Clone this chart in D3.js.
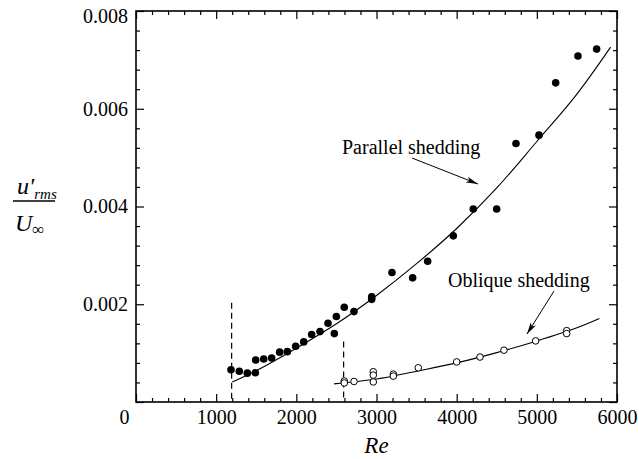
<!DOCTYPE html>
<html>
<head>
<meta charset="utf-8">
<script src="https://cdn.jsdelivr.net/npm/d3@7"></script>
<style>
  body { margin: 0; background: #fff; }
  svg { display: block; }
</style>
</head>
<body>
<svg id="chart" width="639" height="459"></svg>
<script>
// Parallel shedding (filled circles): Re, u'rms/U
const parallelRe = [1185, 1289, 1389, 1489, 1493, 1593, 1692, 1792, 1888, 1992, 2092, 2191, 2295, 2395, 2474, 2499, 2598, 2719, 2940, 2940, 3193, 3451, 3638, 3958, 4207, 4499, 4740, 5027, 5235, 5513, 5746];
const parallelU = [0.00066, 0.00063, 0.00059, 0.00060, 0.00086, 0.00088, 0.00090, 0.00102, 0.00103, 0.00114, 0.00123, 0.00138, 0.00144, 0.00161, 0.00140, 0.00175, 0.00194, 0.00185, 0.00215, 0.00210, 0.00265, 0.00254, 0.00288, 0.00340, 0.00395, 0.00395, 0.00529, 0.00546, 0.00653, 0.00708, 0.00722];

// Oblique shedding (open circles)
const obliqueRe = [2598, 2598, 2720, 2960, 2960, 2960, 3210, 3210, 3521, 4000, 4291, 4590, 4985, 5372, 5372];
const obliqueU = [0.00043, 0.00039, 0.00042, 0.00062, 0.00055, 0.00041, 0.00057, 0.00053, 0.00070, 0.00082, 0.00092, 0.00106, 0.00125, 0.00146, 0.00140];

// Fitted curves
const parallelFitRe = [1200, 1500, 2000, 2500, 3000, 3500, 4000, 4500, 5000, 5500, 5920];
const parallelFitU = [0.00041, 0.00064, 0.00110, 0.00160, 0.00218, 0.00283, 0.00355, 0.00438, 0.00533, 0.00630, 0.00726];
const obliqueFitRe = [2470, 3000, 3500, 4000, 4500, 5000, 5500, 5780];
const obliqueFitU = [0.00037, 0.00047, 0.00063, 0.00080, 0.00101, 0.00125, 0.00152, 0.00171];

// Dashed markers: Re, top value
const markerRe = [1193, 2590];
const markerTop = [0.00203, 0.00124];

const xMajor = [0, 1000, 2000, 3000, 4000, 5000, 6000];
const yMajor = [0, 0.002, 0.004, 0.006, 0.008];
const yLabels = ['', '0.002', '0.004', '0.006', '0.008'];

const serif = '"Liberation Serif", "Times New Roman", serif';
const svg = d3.select('#chart');
const plotLeft = 136, plotRight = 617, plotTop = 11, plotBottom = 402;

const x = d3.scaleLinear().domain([0, 6000]).range([plotLeft, plotRight]);
const y = d3.scaleLinear().domain([0, 0.008]).range([plotBottom, plotTop]);

const xMinor = d3.range(0, 6001, 200).filter(v => v % 1000 !== 0);
const yMinor = d3.range(0, 0.00801, 0.0004).filter(v => Math.abs(v / 0.002 - Math.round(v / 0.002)) > 1e-6);

// Axes with inward ticks on all four sides
function styleAxis(g) {
    g.select('.domain').remove();
    g.selectAll('line').attr('stroke', '#000').attr('stroke-width', 1.2);
    g.selectAll('text').style('font-family', serif).style('font-size', '20px').attr('fill', '#000');
}

svg.append('g').attr('transform', `translate(0,${plotBottom})`)
    .call(d3.axisBottom(x).tickValues(xMajor).tickSize(-8).tickPadding(18).tickFormat(d3.format('d')))
    .call(styleAxis)
    .call(g => g.selectAll('text').attr('dy', '0.2em'))
    .call(g => g.selectAll('text').filter(d => d === 0).attr('dx', -12));
svg.append('g').attr('transform', `translate(0,${plotBottom})`)
    .call(d3.axisBottom(x).tickValues(xMinor).tickSize(-4).tickFormat(''))
    .call(styleAxis);
svg.append('g').attr('transform', `translate(0,${plotTop})`)
    .call(d3.axisTop(x).tickValues(xMajor).tickSize(-8).tickFormat(''))
    .call(styleAxis);
svg.append('g').attr('transform', `translate(0,${plotTop})`)
    .call(d3.axisTop(x).tickValues(xMinor).tickSize(-4).tickFormat(''))
    .call(styleAxis);

svg.append('g').attr('transform', `translate(${plotLeft},0)`)
    .call(d3.axisLeft(y).tickValues(yMajor).tickSize(-8).tickPadding(8).tickFormat((d, i) => yLabels[i]))
    .call(styleAxis)
    .call(g => g.selectAll('text').filter(d => d === 0.008).attr('dy', '0.55em'));
svg.append('g').attr('transform', `translate(${plotLeft},0)`)
    .call(d3.axisLeft(y).tickValues(yMinor).tickSize(-4).tickFormat(''))
    .call(styleAxis);
svg.append('g').attr('transform', `translate(${plotRight},0)`)
    .call(d3.axisRight(y).tickValues(yMajor).tickSize(-8).tickFormat(''))
    .call(styleAxis);
svg.append('g').attr('transform', `translate(${plotRight},0)`)
    .call(d3.axisRight(y).tickValues(yMinor).tickSize(-4).tickFormat(''))
    .call(styleAxis);

// Frame
svg.append('rect')
    .attr('x', plotLeft).attr('y', plotTop)
    .attr('width', plotRight - plotLeft).attr('height', plotBottom - plotTop)
    .attr('fill', 'none').attr('stroke', '#000').attr('stroke-width', 1.6);

// Dashed verticals
markerRe.forEach((re, i) => {
    svg.append('line')
        .attr('x1', x(re)).attr('x2', x(re))
        .attr('y1', y(markerTop[i])).attr('y2', plotBottom)
        .attr('stroke', '#000').attr('stroke-width', 1.2)
        .attr('stroke-dasharray', '6,4');
});

// Fit curves
const line = d3.line().x(d => x(d[0])).y(d => y(d[1])).curve(d3.curveCatmullRom);
svg.append('path')
    .datum(parallelFitRe.map((r, i) => [r, parallelFitU[i]]))
    .attr('d', line).attr('fill', 'none').attr('stroke', '#000').attr('stroke-width', 1.1);
svg.append('path')
    .datum(obliqueFitRe.map((r, i) => [r, obliqueFitU[i]]))
    .attr('d', line).attr('fill', 'none').attr('stroke', '#000').attr('stroke-width', 1.1);

// Points
svg.append('g').selectAll('circle')
    .data(parallelRe.map((r, i) => [r, parallelU[i]]))
    .join('circle')
    .attr('cx', d => x(d[0])).attr('cy', d => y(d[1]))
    .attr('r', 3.8).attr('fill', '#000');
svg.append('g').selectAll('circle')
    .data(obliqueRe.map((r, i) => [r, obliqueU[i]]))
    .join('circle')
    .attr('cx', d => x(d[0])).attr('cy', d => y(d[1]))
    .attr('r', 3.3).attr('fill', '#fff').attr('stroke', '#000').attr('stroke-width', 1);

// Annotations with arrows
svg.append('defs').append('marker')
    .attr('id', 'arrow').attr('viewBox', '0 0 12 6')
    .attr('refX', 12).attr('refY', 3)
    .attr('markerWidth', 12).attr('markerHeight', 6)
    .attr('markerUnits', 'userSpaceOnUse')
    .attr('orient', 'auto')
    .append('path').attr('d', 'M0,0 L12,3 L0,6 L3,3 Z').attr('fill', '#000');

svg.append('text').attr('x', 342).attr('y', 154)
    .style('font-family', serif).style('font-size', '20px').text('Parallel shedding');
svg.append('line')
    .attr('x1', 412).attr('y1', 158).attr('x2', 478).attr('y2', 184)
    .attr('stroke', '#000').attr('stroke-width', 1).attr('marker-end', 'url(#arrow)');

svg.append('text').attr('x', 448).attr('y', 287)
    .style('font-family', serif).style('font-size', '20px').text('Oblique shedding');
svg.append('line')
    .attr('x1', 554).attr('y1', 291).attr('x2', 527).attr('y2', 334)
    .attr('stroke', '#000').attr('stroke-width', 1).attr('marker-end', 'url(#arrow)');

// Axis titles
svg.append('text')
    .attr('x', x(3000)).attr('y', 453)
    .attr('text-anchor', 'middle')
    .style('font-family', serif).style('font-size', '23px').style('font-style', 'italic')
    .text('Re');

const yt = svg.append('g');
const num = yt.append('text').attr('x', 17).attr('y', 194)
    .style('font-family', serif).style('font-size', '24px').style('font-style', 'italic');
num.append('tspan').text('u′');
num.append('tspan').style('font-size', '15px').attr('dy', 5).text('rms');
yt.append('line').attr('x1', 13).attr('x2', 55).attr('y1', 201).attr('y2', 201)
    .attr('stroke', '#000').attr('stroke-width', 1.3);
const den = yt.append('text').attr('x', 15).attr('y', 231)
    .style('font-family', serif).style('font-size', '24px').style('font-style', 'italic');
den.append('tspan').text('U');
den.append('tspan').style('font-size', '17px').style('font-style', 'normal').attr('dy', 4).text('∞');
</script>
</body>
</html>
